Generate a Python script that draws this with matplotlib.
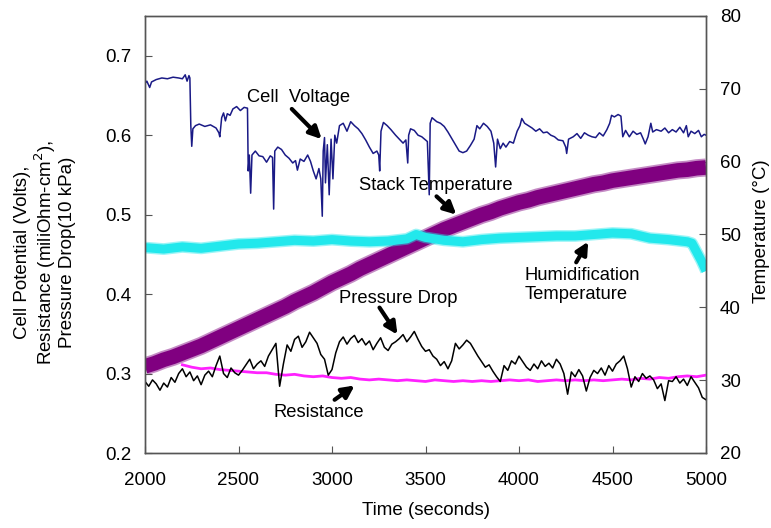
import numpy as np
import matplotlib.pyplot as plt

plt.rcParams['font.family'] = ['Liberation Sans', 'DejaVu Sans']

# cell voltage (Volts), time in seconds
volt_t = [2000, 2010, 2025, 2035, 2060, 2090, 2120, 2150, 2180, 2200, 2215, 2225, 2235, 2240,
          2245, 2250, 2256, 2270, 2290, 2320, 2350, 2380, 2395, 2400, 2410, 2420, 2430, 2440,
          2455, 2470, 2490, 2510, 2530, 2548, 2552, 2558, 2565, 2572, 2590, 2610, 2630, 2650,
          2670, 2682, 2688, 2694, 2710, 2730, 2750, 2770, 2790, 2805, 2815, 2830, 2850, 2870,
          2885, 2900, 2915, 2930, 2940, 2948, 2953, 2960, 2965, 2975, 2985, 2995, 3005, 3015,
          3025, 3040, 3060, 3080, 3100, 3120, 3140, 3160, 3180, 3200, 3220, 3240, 3250, 3255,
          3262, 3275, 3295, 3315, 3340, 3360, 3380, 3395, 3405, 3410, 3420, 3440, 3460, 3480,
          3510, 3520, 3525, 3535, 3560, 3580, 3600, 3620, 3640, 3660, 3680, 3700, 3720, 3740,
          3760, 3775, 3790, 3810, 3830, 3850, 3865, 3875, 3885, 3900, 3915, 3930, 3950, 3970,
          3990, 4005, 4015, 4030, 4050, 4070, 4090, 4110, 4130, 4150, 4170, 4190, 4210, 4235,
          4250, 4255, 4265, 4290, 4310, 4330, 4350, 4370, 4390, 4410, 4430, 4450, 4470, 4485,
          4495, 4510, 4530, 4545, 4555, 4570, 4590, 4610, 4630, 4650, 4665, 4675, 4690, 4705,
          4715, 4735, 4760, 4780, 4800, 4820, 4840, 4860, 4880, 4895, 4905, 4920, 4940, 4960,
          4975, 4990, 5000]
volt_v = [0.665, 0.668, 0.660, 0.667, 0.670, 0.672, 0.671, 0.673, 0.672, 0.671, 0.676, 0.668, 0.675, 0.672,
          0.612, 0.586, 0.608, 0.612, 0.614, 0.611, 0.613, 0.609, 0.603, 0.598, 0.622, 0.628, 0.618, 0.627,
          0.625, 0.633, 0.636, 0.631, 0.635, 0.634, 0.555, 0.575, 0.527, 0.575, 0.580, 0.574, 0.573, 0.566,
          0.574, 0.572, 0.507, 0.580, 0.585, 0.582, 0.575, 0.571, 0.565, 0.568, 0.556, 0.570, 0.567, 0.575,
          0.567, 0.555, 0.545, 0.558, 0.545, 0.498, 0.580, 0.597, 0.540, 0.588, 0.525, 0.595, 0.545, 0.600,
          0.590, 0.612, 0.615, 0.605, 0.617, 0.612, 0.608, 0.602, 0.594, 0.585, 0.577, 0.580, 0.575, 0.555,
          0.605, 0.616, 0.612, 0.607, 0.600, 0.595, 0.590, 0.594, 0.565, 0.600, 0.608, 0.606, 0.600, 0.598,
          0.592, 0.525, 0.615, 0.622, 0.617, 0.615, 0.611, 0.604, 0.596, 0.588, 0.580, 0.578, 0.580, 0.587,
          0.595, 0.612, 0.608, 0.615, 0.611, 0.605, 0.590, 0.560, 0.595, 0.583, 0.590, 0.585, 0.592, 0.590,
          0.605, 0.612, 0.621, 0.615, 0.612, 0.609, 0.605, 0.608, 0.603, 0.604, 0.600, 0.598, 0.594, 0.593,
          0.585, 0.577, 0.595, 0.598, 0.602, 0.596, 0.603, 0.600, 0.598, 0.597, 0.603, 0.599, 0.607, 0.615,
          0.625, 0.623, 0.626, 0.624, 0.598, 0.606, 0.598, 0.605, 0.601, 0.603, 0.595, 0.589, 0.598, 0.615,
          0.604, 0.607, 0.605, 0.609, 0.603, 0.607, 0.604, 0.610, 0.603, 0.612, 0.598, 0.605, 0.602, 0.606,
          0.598, 0.601, 0.600]

# pressure drop (10 kPa), every 20 s
press_t = np.arange(2000, 5001, 20)
press_v = [0.290, 0.284, 0.292, 0.287, 0.279, 0.288,
           0.283, 0.295, 0.289, 0.300, 0.306,
           0.296, 0.302, 0.291, 0.297, 0.286,
           0.298, 0.303, 0.296, 0.310, 0.322,
           0.300, 0.295, 0.307, 0.301, 0.298,
           0.304, 0.311, 0.318, 0.306, 0.312,
           0.316, 0.309, 0.322, 0.330, 0.338,
           0.284, 0.312, 0.336, 0.328, 0.343,
           0.347, 0.333, 0.340, 0.352, 0.345,
           0.338, 0.324, 0.318, 0.298, 0.305,
           0.326, 0.340, 0.346, 0.337, 0.344,
           0.348, 0.339, 0.344, 0.336, 0.341,
           0.330, 0.338, 0.345, 0.333, 0.329,
           0.337, 0.340, 0.344, 0.349, 0.340,
           0.346, 0.353, 0.343, 0.334, 0.328,
           0.330, 0.322, 0.318, 0.310, 0.315,
           0.306, 0.316, 0.338, 0.331, 0.336,
           0.342, 0.338, 0.330, 0.322, 0.315,
           0.308, 0.311, 0.303, 0.296, 0.290,
           0.310, 0.304, 0.316, 0.312, 0.322,
           0.315, 0.308, 0.304, 0.312, 0.306,
           0.316, 0.309, 0.313, 0.307, 0.318,
           0.312, 0.300, 0.274, 0.302, 0.296,
           0.305, 0.297, 0.278, 0.295, 0.304,
           0.300, 0.307, 0.298, 0.310, 0.303,
           0.312, 0.316, 0.322, 0.306, 0.283,
           0.296, 0.290, 0.300, 0.294, 0.297,
           0.292, 0.281, 0.287, 0.266, 0.291,
           0.290, 0.296, 0.288, 0.293, 0.285,
           0.296, 0.289, 0.282, 0.270, 0.267]

# resistance (miliOhm-cm2), every 50 s from 2200
res_t = np.arange(2200, 5001, 50)
res_v = [0.311, 0.308, 0.306, 0.307, 0.305, 0.304,
         0.303, 0.302, 0.301, 0.301, 0.299, 0.298, 0.299, 0.297, 0.296, 0.297,
         0.295, 0.294, 0.295, 0.293, 0.292, 0.293, 0.292, 0.291, 0.292, 0.291,
         0.290, 0.292, 0.291, 0.290, 0.291, 0.290, 0.291, 0.290, 0.291, 0.292,
         0.291, 0.292, 0.290, 0.291, 0.292, 0.291, 0.292, 0.291, 0.292, 0.291,
         0.292, 0.293, 0.292, 0.294, 0.293, 0.295, 0.294, 0.296, 0.297, 0.296,
         0.298]

# stack temperature (C), every 50 s
stack_t = np.arange(2000, 5001, 50)
stack_v = [31.9, 32.3, 32.8, 33.2, 33.7, 34.2, 34.7, 35.3, 35.9, 36.5,
           37.1, 37.7, 38.3, 38.9, 39.5, 40.1, 40.8, 41.4, 42.0, 42.7,
           43.4, 44.0, 44.6, 45.3, 45.9, 46.5, 47.1, 47.7, 48.3, 48.9,
           49.5, 50.1, 50.7, 51.2, 51.7, 52.2, 52.7, 53.1, 53.6, 54.0,
           54.4, 54.7, 55.1, 55.4, 55.7, 56.0, 56.3, 56.6, 56.9, 57.1,
           57.4, 57.6, 57.8, 58.0, 58.2, 58.4, 58.6, 58.8, 58.9, 59.1,
           59.2]

# humidification temperature (C)
humid_t = [2000, 2100, 2200, 2300, 2400, 2500, 2600, 2700, 2800, 2900, 3000, 3100, 3200,
           3300, 3400, 3450, 3500, 3600, 3700, 3800, 3900, 4000, 4100, 4200, 4300, 4400,
           4500, 4600, 4700, 4800, 4900, 4925, 4950, 4975, 5000]
humid_v = [48.2, 48.0, 48.3, 48.1, 48.4, 48.7, 48.8, 49.0, 49.2, 49.1, 49.3, 49.1, 49.0,
           49.1, 49.4, 50.0, 49.6, 49.2, 49.0, 49.3, 49.5, 49.6, 49.7, 49.8, 49.8, 50.0,
           50.2, 50.1, 49.5, 49.3, 49.0, 48.8, 47.6, 46.4, 45.0]

fig = plt.figure(figsize=(7.71, 5.28), dpi=100)
ax = fig.add_axes([145/771, 1-453/528, (706-145)/771, (453-16)/528])
ax2 = ax.twinx()

# thick noisy bands: a soft halo under a solid core
ax2.plot(stack_t, stack_v, color='#800080', lw=13, alpha=0.45, solid_capstyle='butt')
ax2.plot(stack_t, stack_v, color='#800080', lw=10.5, solid_capstyle='butt')
ax2.plot(humid_t, humid_v, color='#22e8ec', lw=8.5, alpha=0.45, solid_capstyle='butt')
ax2.plot(humid_t, humid_v, color='#22e8ec', lw=6.5, solid_capstyle='butt')

ax.set_zorder(ax2.get_zorder() + 1)
ax.patch.set_visible(False)
ax.plot(volt_t, volt_v, color='#1a1a86', lw=1.1)
ax.plot(res_t, res_v, color='#ff22ff', lw=2)
ax.plot(press_t, press_v, color='black', lw=1.1)

ax.set_xlim(2000, 5000)
ax.set_ylim(0.2, 0.75)
ax2.set_ylim(20, 80)
ax.set_xticks(np.arange(2000, 5001, 500))
ax.set_yticks([0.2, 0.3, 0.4, 0.5, 0.6, 0.7])
ax2.set_yticks(np.arange(20, 81, 10))

for a in (ax, ax2):
    for s in a.spines.values():
        s.set_color('#555555')
        s.set_linewidth(1)
ax.tick_params(direction='in', length=5, color='#555555', labelsize=13.5, pad=9.5)
ax.tick_params(axis='x', pad=14)
ax2.tick_params(direction='in', length=5, color='#555555', labelsize=13.5, pad=10)

ax.set_xlabel('Time (seconds)', fontsize=13.5, labelpad=9)
fig.text(45/771, 1-252/528, 'Cell Potential (Volts),\nResistance (miliOhm-cm$^2$),\nPressure Drop(10 kPa)',
         rotation=90, ha='center', va='center', multialignment='center', fontsize=13.5, linespacing=1.05)
fig.text(761/771, 1-231/528, 'Temperature (\u00b0C)', rotation=90, ha='center', va='center', fontsize=13.5)

arrow = dict(arrowstyle='-|>', color='black', lw=3, mutation_scale=18, shrinkA=0, shrinkB=0)
fs = 13.2
ax.text(2822, 0.647, 'Cell  Voltage', ha='center', va='center', fontsize=fs)
ax.annotate('', xy=(2945, 0.595), xytext=(2785, 0.633), arrowprops=arrow)
ax.text(3553, 0.537, 'Stack Temperature', ha='center', va='center', fontsize=fs)
ax.annotate('', xy=(3665, 0.500), xytext=(3559, 0.523), arrowprops=arrow)
ax.text(4028, 0.411, 'Humidification\nTemperature', ha='left', va='center', fontsize=fs, linespacing=1.15)
ax.annotate('', xy=(4370, 0.466), xytext=(4306, 0.440), arrowprops=arrow)
ax.text(3356, 0.394, 'Pressure Drop', ha='center', va='center', fontsize=fs)
ax.annotate('', xy=(3350, 0.349), xytext=(3254, 0.383), arrowprops=arrow)
ax.text(2929, 0.251, 'Resistance', ha='center', va='center', fontsize=fs)
ax.annotate('', xy=(3121, 0.285), xytext=(3014, 0.267), arrowprops=arrow)

fig.savefig('out.png', dpi=100)
